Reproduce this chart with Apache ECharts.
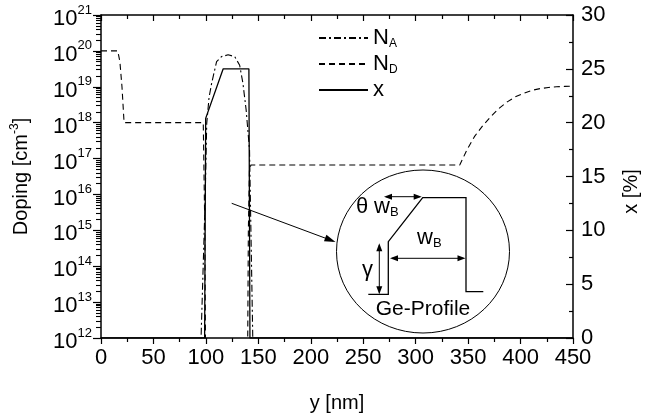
<!DOCTYPE html>
<html>
<head>
<meta charset="utf-8">
<script src="https://cdn.jsdelivr.net/npm/echarts@6/dist/echarts.min.js"></script>
<style>
html,body{margin:0;padding:0;background:#fff;}
#chart{width:649px;height:419px;}
</style>
</head>
<body>
<div id="chart"></div>
<script>
// ---- data ----
const depthTicks = [0, 50, 100, 150, 200, 250, 300, 350, 400, 450];
const xPercentTicks = [0, 5, 10, 15, 20, 25, 30];
const dopingExponents = [12, 13, 14, 15, 16, 17, 18, 19, 20, 21];
const minorMultipliers = [2, 3, 4, 5, 6, 7, 8, 9];

// N_A acceptor doping: [y nm, log10 concentration]
const naY   = [94.8, 95.4, 99.3, 100.8, 103.0, 105.5, 110.2, 114.9, 121.2, 127.5, 132.2, 135.3, 138.4, 141.6, 144.7, 145.0];
const naLog = [10.0, 12.0, 15.85, 17.98, 18.70, 19.10, 19.70, 19.84, 19.89, 19.84, 19.60, 19.10, 18.35, 17.24, 12.0, 10.0];

// N_D donor doping: [y nm, log10 concentration]
const ndY   = [0, 16, 18, 20, 22, 97.5, 99.0, 100.0, 139.5, 140.5, 141.5, 143, 342, 349, 356, 364, 371.7, 379.5, 387.3, 395, 403, 410.8, 418.7, 426.5, 434.3, 442, 450];
const ndLog = [20, 20, 19.7, 19.0, 18.0, 18.0, 15.0, 10.0, 10.0, 15.0, 16.7, 16.82, 16.82, 17.25, 17.61, 17.92, 18.17, 18.40, 18.58, 18.72, 18.82, 18.90, 18.95, 18.98, 19.0, 19.01, 19.02];

// x (Ge fraction, %)
const geY   = [0, 98.8, 99.8, 116.5, 141.0, 142.0, 450];
const geVal = [0, 0, 20.4, 25.0, 25.0, 0, 0];

const FONT = 'Liberation Sans, Arial, sans-serif';

function pairs(xs, ys, f) { return xs.map((x, i) => [x, f ? f(ys[i]) : ys[i]]); }
const pow10 = v => Math.pow(10, v);

// log-spaced minor tick values (2..9 x 10^k) for the doping axis
const logMinorValues = [];
for (let i = 0; i < dopingExponents.length - 1; i++) {
  for (let j = 0; j < minorMultipliers.length; j++) {
    logMinorValues.push(minorMultipliers[j] * Math.pow(10, dopingExponents[i]));
  }
}

const chart = echarts.init(document.getElementById('chart'), null, {renderer: 'canvas'});

function head(x, y, ang, len, hw) {
  const c = Math.cos(ang), s = Math.sin(ang);
  return {
    type: 'polygon',
    shape: {points: [[x, y], [x - len * c + hw * s, y - len * s - hw * c], [x - len * c - hw * s, y - len * s + hw * c]]},
    style: {fill: '#000'}, z: 100
  };
}
function line(x1, y1, x2, y2, w) {
  return {type: 'line', shape: {x1, y1, x2, y2}, style: {stroke: '#000', lineWidth: w || 1}, z: 100};
}

const graphics = [];
graphics.push({type: 'ellipse', shape: {cx: 423, cy: 251.5, rx: 86.5, ry: 81.5}, style: {fill: '#fff', stroke: '#000', lineWidth: 1}, z: 90});
graphics.push({type: 'polyline', shape: {points: [[368.3, 294.3], [388.3, 294.3], [388.3, 241.7], [422.7, 197.7], [466, 197.7], [466, 291.7], [483.3, 291.7]]}, style: {stroke: '#000', lineWidth: 1.3, fill: null}, z: 100});
graphics.push(line(386, 196.7, 420, 196.7));
graphics.push(head(384, 196.7, Math.PI, 8, 3));
graphics.push(head(421.7, 196.7, 0, 8, 3));
graphics.push(line(392, 258.3, 463, 258.3));
graphics.push(head(390, 258.3, Math.PI, 8, 3));
graphics.push(head(465.5, 258.3, 0, 8, 3));
graphics.push(line(379.3, 245, 379.3, 292.5));
graphics.push(head(379.3, 243.3, -Math.PI / 2, 8, 3));
graphics.push(head(379.3, 294.3, Math.PI / 2, 8, 3));
const ang = Math.atan2(241.7 - 203.3, 335 - 231.7);
graphics.push(line(231.7, 203.3, 333, 241));
graphics.push(head(335.5, 241.9, ang, 11, 3.5));
graphics.push({type: 'text', left: 356, top: 196, z: 100,
  style: {text: '{t|θ} {w|w}{s|B}', font: '21px ' + FONT, fill: '#000',
    rich: {t: {fontSize: 22, fontFamily: FONT}, w: {fontSize: 22, fontFamily: FONT}, s: {fontSize: 13, fontFamily: FONT, padding: [11, 0, 0, 0]}}}});
graphics.push({type: 'text', left: 417, top: 227, z: 100,
  style: {text: '{w|w}{s|B}', font: '21px ' + FONT, fill: '#000',
    rich: {w: {fontSize: 22, fontFamily: FONT}, s: {fontSize: 13, fontFamily: FONT, padding: [11, 0, 0, 0]}}}});
graphics.push({type: 'text', left: 362, top: 259, z: 100,
  style: {text: 'γ', font: '22px ' + FONT, fill: '#000'}});
graphics.push({type: 'text', x: 423, y: 309, z: 100,
  style: {text: 'Ge-Profile', font: '21px ' + FONT, fill: '#000', align: 'center', verticalAlign: 'middle'}});

const axisLine = {show: true, lineStyle: {color: '#000', width: 1.5}};

const option = {
  animation: false,
  backgroundColor: '#fff',
  textStyle: {fontFamily: FONT},
  grid: {left: 101, right: 69, top: 15, bottom: 81, containLabel: false},
  legend: {
    orient: 'vertical', left: 313, top: 22, itemWidth: 49, itemHeight: 14, itemGap: 3,
    itemStyle: {opacity: 0},
    textStyle: {fontSize: 22, color: '#000', fontFamily: FONT,
      rich: {n: {fontSize: 22, fontFamily: FONT}, sub: {fontSize: 12, fontFamily: FONT, padding: [12, 0, 0, 0]}}},
    formatter: function (name) {
      if (name === 'N_A') return '{n|N}{sub|A}';
      if (name === 'N_D') return '{n|N}{sub|D}';
      return '{n|x}';
    },
    data: ['N_A', 'N_D', 'x']
  },
  xAxis: [
    {type: 'value', min: 0, max: 450, interval: 50, position: 'bottom',
      name: 'y [nm]', nameLocation: 'middle', nameGap: 55,
      nameTextStyle: {fontSize: 20, color: '#000', fontFamily: FONT},
      axisLine: axisLine,
      axisTick: {show: true, inside: false, length: 6, lineStyle: {color: '#000', width: 1.2}},
      minorTick: {show: true, splitNumber: 2, length: 4, lineStyle: {color: '#000', width: 1.2}},
      axisLabel: {fontSize: 22, color: '#000', margin: 9, fontFamily: FONT,
        formatter: v => depthTicks.indexOf(v) >= 0 ? String(v) : ''},
      splitLine: {show: false}},
    {type: 'value', min: 0, max: 450, interval: 50, position: 'top',
      axisLine: axisLine,
      axisTick: {show: true, inside: true, length: 6, lineStyle: {color: '#000', width: 1.2}},
      minorTick: {show: true, splitNumber: 2, length: 4, lineStyle: {color: '#000', width: 1.2}},
      axisLabel: {show: false}, splitLine: {show: false}}
  ],
  yAxis: [
    {type: 'log', logBase: 10, min: 1e12, max: 1e21, splitNumber: 9, position: 'left',
      name: 'Doping [cm{sup|-3}]', nameLocation: 'middle', nameGap: 68, nameRotate: 90,
      nameTextStyle: {fontSize: 20, color: '#000', fontFamily: FONT,
        rich: {sup: {fontSize: 12, fontFamily: FONT, padding: [0, 0, 12, 0]}}},
      axisLine: axisLine,
      axisTick: {show: true, inside: false, length: 8, lineStyle: {color: '#000', width: 1.2}},
      minorTick: {show: false},
      axisLabel: {color: '#000', margin: 9, fontFamily: FONT,
        formatter: v => {
          const e = Math.round(Math.log10(v));
          return dopingExponents.indexOf(e) >= 0 ? '{b|10}{s|' + e + '}' : '';
        },
        rich: {b: {fontSize: 22, fontFamily: FONT, padding: [8, 0, 0, 0]}, s: {fontSize: 13, fontFamily: FONT, padding: [0, 0, 10, 0]}}},
      splitLine: {show: false}},
    // overlay log axis carrying only the log-spaced minor ticks
    {type: 'log', logBase: 10, min: 1e12, max: 1e21, position: 'left', offset: 0,
      axisLine: {show: false},
      axisTick: {show: true, inside: false, length: 5, customValues: logMinorValues,
        lineStyle: {color: '#000', width: 1.1}},
      axisLabel: {show: false}, splitLine: {show: false}, minorTick: {show: false}},
    {type: 'value', min: 0, max: 30, interval: 5, position: 'right',
      name: 'x [%]', nameLocation: 'middle', nameGap: 48, nameRotate: 90,
      nameTextStyle: {fontSize: 20, color: '#000', fontFamily: FONT, padding: [0, 30, 0, 0]},
      axisLine: axisLine,
      axisTick: {show: true, inside: true, length: 7, lineStyle: {color: '#000', width: 1.2}},
      minorTick: {show: true, splitNumber: 2, length: 4, lineStyle: {color: '#000', width: 1.2}},
      axisLabel: {fontSize: 22, color: '#000', margin: 8, fontFamily: FONT,
        formatter: v => xPercentTicks.indexOf(v) >= 0 ? String(v) : ''},
      splitLine: {show: false}}
  ],
  series: [
    {name: 'N_A', type: 'line', xAxisIndex: 0, yAxisIndex: 0, symbol: 'none', clip: true,
      lineStyle: {color: '#000', width: 1.1, type: [7, 3, 2, 3]}, itemStyle: {color: '#000'},
      data: pairs(naY, naLog, pow10)},
    {name: 'N_D', type: 'line', xAxisIndex: 0, yAxisIndex: 0, symbol: 'none', clip: true,
      lineStyle: {color: '#000', width: 1.1, type: [6, 4]}, itemStyle: {color: '#000'},
      data: pairs(ndY, ndLog, pow10)},
    {name: 'x', type: 'line', xAxisIndex: 0, yAxisIndex: 2, symbol: 'none', clip: true,
      lineStyle: {color: '#000', width: 1.3, type: 'solid'}, itemStyle: {color: '#000'},
      data: pairs(geY, geVal)}
  ],
  graphic: graphics
};
chart.setOption(option);
</script>
</body>
</html>
